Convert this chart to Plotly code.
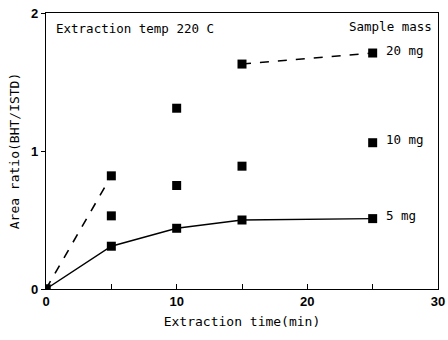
import plotly.graph_objects as go

# Data
time_5mg = [0, 5, 10, 15, 25]
ratio_5mg = [0, 0.31, 0.44, 0.50, 0.51]
time_10mg = [5, 10, 15, 25]
ratio_10mg = [0.53, 0.75, 0.89, 1.06]
time_20mg = [0, 5, 10, 15, 25]
ratio_20mg = [0, 0.82, 1.31, 1.63, 1.71]
x_ticks = [0, 5, 10, 15, 20, 25, 30]
x_ticklabels = ["0", "", "10", "", "20", "", "30"]
y_ticks = [0, 1, 2]

mono = "DejaVu Sans Mono"
fig = go.Figure()

# 20 mg dashed segments (0-5 and 15-25)
fig.add_trace(go.Scatter(x=[time_20mg[0], time_20mg[1], None, time_20mg[3], time_20mg[4]],
                         y=[ratio_20mg[0], ratio_20mg[1], None, ratio_20mg[3], ratio_20mg[4]],
                         mode="lines", line=dict(color="black", width=1.6, dash="dash"),
                         connectgaps=False, showlegend=False))
fig.add_trace(go.Scatter(x=time_20mg, y=ratio_20mg, mode="markers",
                         marker=dict(symbol="square", size=9, color="black"), showlegend=False))
fig.add_trace(go.Scatter(x=time_10mg, y=ratio_10mg, mode="markers",
                         marker=dict(symbol="square", size=9, color="black"), showlegend=False))
fig.add_trace(go.Scatter(x=time_5mg, y=ratio_5mg, mode="lines+markers",
                         line=dict(color="black", width=1.4),
                         marker=dict(symbol="square", size=9, color="black"), showlegend=False))

annots = [
    dict(x=0.6, y=1.96, text="Extraction temp 220 C", xanchor="left", yanchor="top"),
    dict(x=29.7, y=1.90, text="Sample mass", xanchor="right", yanchor="middle"),
    dict(x=25.9, y=ratio_20mg[-1] + 0.02, text="20 mg", xanchor="left", yanchor="middle"),
    dict(x=25.9, y=ratio_10mg[-1] + 0.02, text="10 mg", xanchor="left", yanchor="middle"),
    dict(x=25.9, y=ratio_5mg[-1] + 0.02, text="5 mg", xanchor="left", yanchor="middle"),
]
for a in annots:
    fig.add_annotation(x=a["x"], y=a["y"], text=a["text"], showarrow=False,
                       xanchor=a["xanchor"], yanchor=a["yanchor"],
                       font=dict(family=mono, size=12.5, color="black"))

fig.update_xaxes(range=[0, 30], tickvals=x_ticks, ticktext=x_ticklabels,
                 ticks="inside", ticklen=5, tickcolor="black", automargin=False,
                 showline=True, linecolor="black", linewidth=1.3, mirror=True,
                 showgrid=False, zeroline=False,
                 tickfont=dict(family="Liberation Sans", size=13, color="black", weight="bold"),
                 title=dict(text="Extraction time(min)", standoff=9,
                            font=dict(family=mono, size=13, color="black")))
fig.update_yaxes(range=[0, 2], tickvals=y_ticks, automargin=False,
                 ticks="outside", ticklen=4, tickcolor="black",
                 showline=True, linecolor="black", linewidth=1.3, mirror=True,
                 showgrid=False, zeroline=False,
                 tickfont=dict(family="Liberation Sans", size=13, color="black", weight="bold"),
                 title=dict(text="Area ratio(BHT/ISTD)", standoff=8,
                            font=dict(family=mono, size=13, color="black")))

fig.update_layout(width=448, height=340, margin=dict(l=46, r=10, t=13, b=51),
                  plot_bgcolor="white", paper_bgcolor="white")
fig.write_html("out.html")
